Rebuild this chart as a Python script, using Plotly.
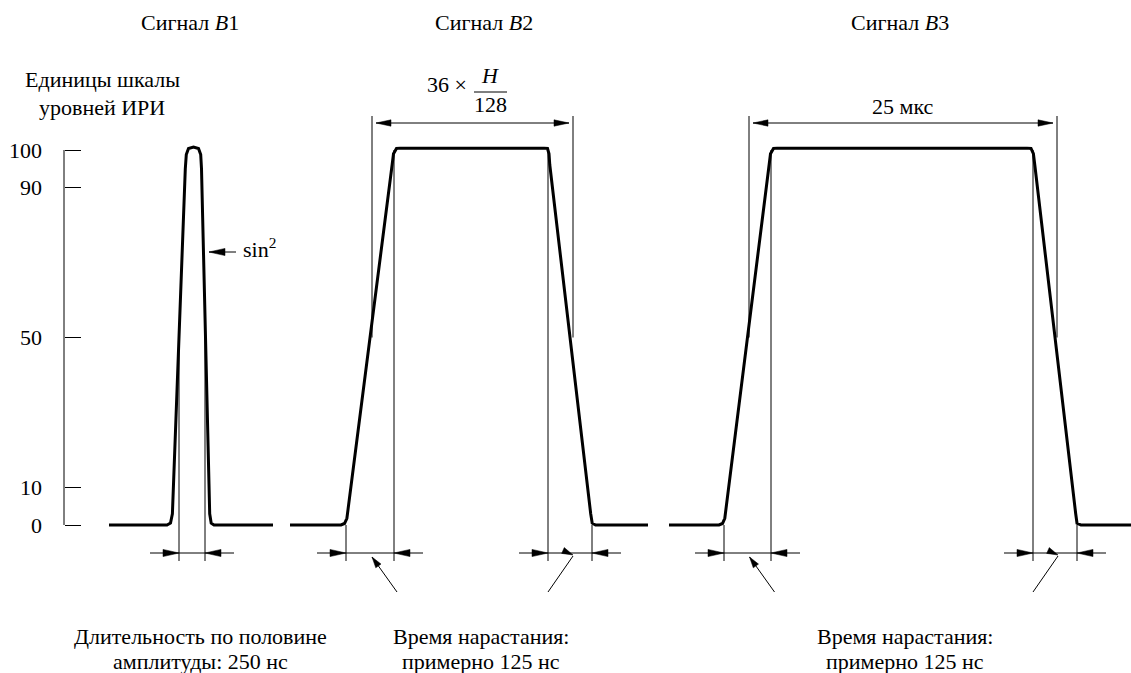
import plotly.graph_objects as go

# ---------------- data ----------------
signal_titles = ["Сигнал <i>B</i>1", "Сигнал <i>B</i>2", "Сигнал <i>B</i>3"]
level_ticks = [0, 10, 50, 90, 100]
level_tick_text = ["0", "10", "50", "90", "100"]

# pulse outlines: time (chart units) and level (scale units)
b1_time = [109, 167, 170.5, 172.4, 185.3, 186.3, 188.5, 193.5, 198.5, 200.7, 201.5, 209.7, 211.2, 214, 273]
b1_level = [0, 0, 0.5, 3, 95, 98.8, 100.4, 100.8, 100.4, 98.8, 95, 3, 0.5, 0, 0]

b2_time = [290, 341, 344.5, 346.9, 392.1, 393.5, 396.5, 400, 544, 547.5, 549.0, 549.8, 590.7, 592.2, 595.5, 648]
b2_level = [0, 0, 0.4, 1.8, 96, 99, 100.4, 100.5, 100.5, 100.4, 99, 96, 3, 0.5, 0, 0]

b3_time = [669, 719, 722.5, 724.8, 769.1, 770.5, 773.5, 777, 1027, 1031, 1033.4, 1034.8, 1075.7, 1077.0, 1081, 1131]
b3_level = [0, 0, 0.4, 1.8, 96, 99, 100.4, 100.5, 100.5, 100.4, 99, 96, 3, 0.5, 0, 0]

# dimension marks (times)
b1_half_marks = [179, 205]
b2_rise_marks = [346, 394]
b2_fall_marks = [548, 592]
b2_width_marks = [372, 573]
b3_rise_marks = [724, 771]
b3_fall_marks = [1033, 1077]
b3_width_marks = [749, 1057]

bottom_notes = [
    ["Длительность по половине", "амплитуды: 250 нс"],
    ["Время нарастания:", "примерно 125 нс"],
    ["Время нарастания:", "примерно 125 нс"],
]
width_labels = ["36 ×", "<i>H</i>", "128", "25 мкс"]

# ---------------- layout helpers ----------------
W, H = 1131, 673
Y0, K = 525.0, 3.75          # pixel row of level 0, pixels per level unit
FONT = "Liberation Serif"
FS = 22


def lv(py):
    """pixel row -> level units"""
    return (Y0 - py) / K


def py(level):
    return Y0 - K * level


fig = go.Figure()

# pulses
for t, l in [(b1_time, b1_level), (b2_time, b2_level), (b3_time, b3_level)]:
    fig.add_trace(go.Scatter(x=t, y=l, mode="lines",
                             line=dict(color="black", width=3),
                             hoverinfo="skip", showlegend=False))

segs = []
tris = []


def seg(x0, y0, x1, y1):
    segs.append(((x0, y0), (x1, y1)))


def tri(tx, ty, dx, dy, length=16, half=3.6):
    n = (dx * dx + dy * dy) ** 0.5
    ux, uy = dx / n, dy / n
    bx, by = tx - ux * length, ty - uy * length
    px_, py_ = -uy, ux
    tris.append([(tx, ty), (bx + px_ * half, by + py_ * half),
                 (bx - px_ * half, by - py_ * half), (tx, ty)])


ROW = 553      # dimension arrow row (px)
VBOT = 561     # bottom of vertical extension lines (px)
TOPROW = 123   # width arrow row (px)
VTOP = 116

# level scale spine
AX = 64
seg(AX, py(0), AX, py(100))

# B1 half-amplitude dimension
a, b = b1_half_marks
seg(a, py(50), a, VBOT)
seg(b, py(50), b, VBOT)
seg(a, ROW, b, ROW)
seg(a - 29, ROW, a, ROW); tri(a, ROW, 1, 0)
seg(b + 29, ROW, b, ROW); tri(b, ROW, -1, 0)

# sin^2 pointer
seg(236, 252, 209, 252); tri(209, 252, -1, 0)


def rise_fall(marks, first_level, second_level):
    a, b = marks
    seg(a, py(first_level), a, VBOT)
    seg(b, py(second_level), b, VBOT)
    seg(a, ROW, b, ROW)
    seg(a - 29, ROW, a, ROW); tri(a, ROW, 1, 0)
    seg(b + 29, ROW, b, ROW); tri(b, ROW, -1, 0)


for rm, fm, wm in [(b2_rise_marks, b2_fall_marks, b2_width_marks),
                   (b3_rise_marks, b3_fall_marks, b3_width_marks)]:
    rise_fall(rm, 0, 100)
    rise_fall(fm, 100, 0)
    a, b = wm
    seg(a, VTOP, a, py(50))
    seg(b, VTOP, b, py(50))
    seg(a + 4, TOPROW, b - 4, TOPROW)
    tri(a + 4, TOPROW, -1, 0, 15, 3.2)
    tri(b - 4, TOPROW, 1, 0, 15, 3.2)
    mr = (rm[0] + rm[1]) / 2 + 2
    seg(mr + 25, 592, mr, 557); tri(mr, 557, -25, -35, 11, 3.2)
    mf = (fm[0] + fm[1]) / 2 + 3
    seg(mf - 25, 592, mf, 556); tri(mf, 555, 1, 0.45, 11, 3.2)

# fraction bar
seg(474, 92, 507, 92)

xs, ys = [], []
for (x0, y0), (x1, y1) in segs:
    xs += [x0, x1, None]
    ys += [lv(y0), lv(y1), None]
fig.add_trace(go.Scatter(x=xs, y=ys, mode="lines",
                         line=dict(color="black", width=1),
                         hoverinfo="skip", showlegend=False))
for t in tris:
    fig.add_trace(go.Scatter(x=[p[0] for p in t], y=[lv(p[1]) for p in t],
                             mode="lines", fill="toself", fillcolor="black",
                             line=dict(color="black", width=0.5),
                             hoverinfo="skip", showlegend=False))

ann = []


def text(x, y, s, size=FS, anchor="center"):
    ann.append(dict(x=x, y=lv(y), xref="x", yref="y", text=s, showarrow=False,
                    xanchor=anchor, yanchor="middle",
                    font=dict(family=FONT, size=size, color="black")))


for cx, s in zip([190, 484, 900], signal_titles):
    text(cx, 22, s)
text(102, 79, "Единицы шкалы")
text(102, 107, "уровней ИРИ")
text(447, 84, width_labels[0])
text(490, 75, width_labels[1])
text(490, 104, width_labels[2])
text(903, 106, width_labels[3])
text(241, 248, "sin<sup>2</sup>", anchor="left")
for cx, lines in zip([200, 481, 905], bottom_notes):
    text(cx, 636, lines[0])
    text(cx, 661, lines[1])

fig.update_layout(
    width=W, height=H, margin=dict(l=0, r=0, t=0, b=0),
    paper_bgcolor="white", plot_bgcolor="white",
    showlegend=False, annotations=ann,
    xaxis=dict(range=[0, W], visible=False, domain=[0, 1]),
    yaxis=dict(range=[lv(H), lv(0)], anchor="free", position=AX / W,
               showgrid=False, zeroline=False, showline=False,
               tickvals=level_ticks, ticktext=level_tick_text,
               ticks="inside", ticklen=16, tickwidth=1, tickcolor="black",
               ticklabelstandoff=22,
               tickfont=dict(family=FONT, size=FS, color="black")),
)

fig.write_html("out.html")
